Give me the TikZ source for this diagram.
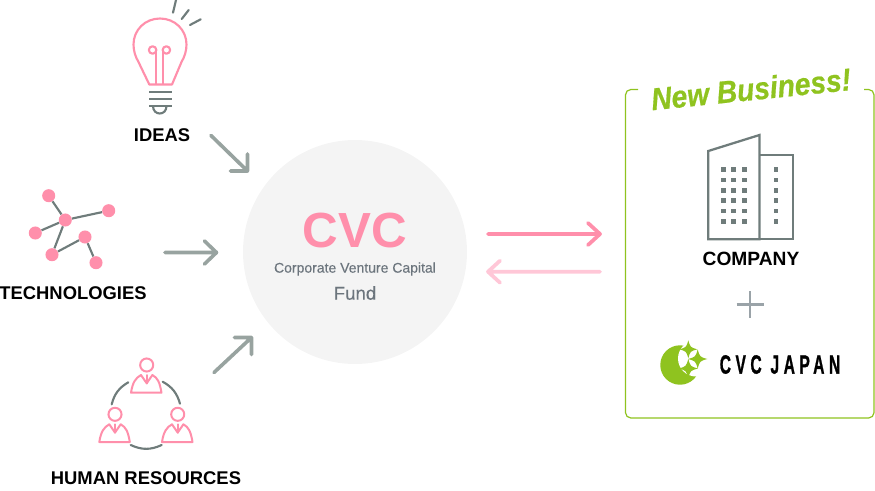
\documentclass[tikz,border=0pt]{standalone}
\usepackage{fontspec}
\setmainfont{Liberation Sans}
\newfontfamily\logofont[LetterSpace=29,FakeBold=1.2]{Liberation Sans Bold}
\newfontfamily\headfont[FakeBold=0.6]{Liberation Sans Bold Italic}
\newfontfamily\midfont[FakeBold=0.25]{Liberation Sans}
\definecolor{pk}{HTML}{FF8FAB}
\definecolor{lpk}{HTML}{FFC7D7}
\definecolor{gy}{HTML}{6F7C7B}
\definecolor{agy}{HTML}{98A3A0}
\definecolor{pgy}{HTML}{9AA3A8}
\definecolor{gn}{HTML}{8FC31F}
\definecolor{txg}{HTML}{6C757D}
\definecolor{cg}{HTML}{F4F4F4}
\tikzset{
 x=0.75pt,y=-0.75pt,
 pline/.style={draw=pk,line width=1.6pt,line join=round,line cap=round},
 hline/.style={draw=pk,line width=1.5pt,line join=round,line cap=round},
 gline/.style={draw=gy,line width=1.6pt,line cap=round},
 tdot/.style={circle,fill=pk,minimum size=9.8pt,inner sep=0pt},
 tedge/.style={draw=gy,line width=1.6pt},
 lab/.style={font=\bfseries\fontsize{13.8}{16}\selectfont,text=black,inner sep=0pt},
 bigarrow/.style={draw=agy,line width=2.7pt,line cap=round,line join=round},
 bldg/.style={draw=gy,line width=1.7pt,line join=miter},
 win/.style={fill=gy,minimum size=3.7pt,inner sep=0pt},
 logostar/.style={fill=gn},
}
\newcommand{\person}[2]{%
 \draw[hline] (#1,#2) ellipse (4.9pt and 4.9pt);
 \draw[hline] (#1-15.7,#2+27.7) .. controls (#1-14,#2+17) and (#1-11,#2+13) .. (#1-5.7,#2+10) -- (#1,#2+18.3) -- (#1+5.7,#2+10) .. controls (#1+11,#2+13) and (#1+13,#2+17) .. (#1+14.8,#2+27.7) -- cycle;
 \draw[hline] (#1,#2+10) -- (#1,#2+18.3);
}
\newcommand{\sparkle}[3]{%
 \fill[logostar] (#1,#2-#3) .. controls (#1+.22*#3,#2-.22*#3) .. (#1+#3,#2) .. controls (#1+.22*#3,#2+.22*#3) .. (#1,#2+#3) .. controls (#1-.22*#3,#2+.22*#3) .. (#1-#3,#2) .. controls (#1-.22*#3,#2-.22*#3) .. cycle;
}
\begin{document}
\begin{tikzpicture}
\useasboundingbox (0,0) rectangle (875,490);
% bulb
\draw[pline] (149.3,84.5) -- (138.5,62) .. controls (135.5,57) and (133.5,51) .. (133.5,44.5) .. controls (133.5,30) and (145,18.5) .. (160,18.5) .. controls (175,18.5) and (186.5,30) .. (186.5,44.5) .. controls (186.5,51) and (184.5,57) .. (181.5,62) -- (172,84.5) -- cycle;
\draw[pline] (155.7,84) -- (155.7,50) (163.3,84) -- (163.3,50);
\draw[pline] (152.6,50) ellipse (2.8pt and 2.8pt);
\draw[pline] (166.4,50) ellipse (2.8pt and 2.8pt);
\draw[gline,line cap=butt] (149,91.7) -- (171.7,91.7) (149,98.7) -- (171.7,98.7) (149,106) -- (171.7,106);
\draw[gline,line cap=butt] (153,106) .. controls (153,116) and (166.5,116) .. (166.5,106);
\draw[gline] (173,12.7) -- (176,0) (181.7,19) -- (188.7,10) (190,25) -- (200.7,19.3);
\node[lab] (ideas) at (162,135) {IDEAS};
% tech
\node[tdot] (t1) at (48.7,195.7) {};
\node[tdot] (t2) at (108.7,210.7) {};
\node[tdot] (t3) at (65.3,220) {};
\node[tdot] (t4) at (35.3,233) {};
\node[tdot] (t5) at (85,237) {};
\node[tdot] (t6) at (52,254.7) {};
\node[tdot] (t7) at (96,262.7) {};
\draw[tedge] (t1) -- (t3) (t2) -- (t3) (t4) -- (t3) (t3) -- (t6) (t6) -- (t5) (t5) -- (t7);
\node[lab] (tech) at (73,293) {TECHNOLOGIES};
% people
\person{146.7}{365}
\person{115}{414.3}
\person{177.7}{414.3}
\coordinate (h1) at (128.3,382.3); \coordinate (h2) at (111.7,404.3);
\coordinate (h3) at (162.7,381.7); \coordinate (h4) at (180,403.7);
\coordinate (h5) at (130.7,445); \coordinate (h6) at (161.7,445);
\draw[gline] (h1) to[bend right=22.5] (h2);
\draw[gline] (h3) to[bend left=22.5] (h4);
\draw[gline] (h5) to[bend right=25] (h6);
\node[lab] (hr) at (146,478) {HUMAN RESOURCES};
% centre
\node[circle,fill=cg,minimum size=168pt,inner sep=0pt] (cvc) at (355,252) {};
\node[font=\bfseries\fontsize{37}{40}\selectfont,text=pk,inner sep=0pt] (cvct) at (355,230.5) {CVC};
\node[font=\midfont\fontsize{10.5}{12}\selectfont,text=txg,inner sep=0pt] (cvcs) at (355,269) {Corporate Venture Capital};
\node[font=\midfont\fontsize{14}{16}\selectfont,text=txg,inner sep=0pt] (fund) at (355,293) {Fund};
% grey arrows
\coordinate (a1s) at (211,135.5); \coordinate (a1e) at (247.5,171);
\coordinate (a2s) at (165,252.5); \coordinate (a2e) at (216.5,252.5);
\coordinate (a3s) at (214,372.5); \coordinate (a3e) at (251.5,337.5);
\draw[bigarrow] (a1s) -- (a1e) (247.5,154) -- (a1e) -- (230.5,171);
\draw[bigarrow] (a2s) -- (a2e) (204.5,241) -- (a2e) -- (204.5,264);
\draw[bigarrow] (a3s) -- (a3e) (234.5,337.5) -- (a3e) -- (251.5,354.5);
% pink arrows
\coordinate (p1s) at (488,234); \coordinate (p1e) at (600,234);
\coordinate (p2s) at (600,271.7); \coordinate (p2e) at (488,271.7);
\draw[draw=pk,line width=2.8pt,line cap=round,line join=round] (p1s) -- (p1e) (588,223) -- (p1e) -- (588,245);
\draw[draw=lpk,line width=2.8pt,line cap=round,line join=round] (p2s) -- (p2e) (500,260.7) -- (p2e) -- (500,282.7);
% box
\coordinate (bl) at (638,89.5); \coordinate (br) at (864,89.5);
\draw[draw=gn,line width=0.9pt,rounded corners=4pt] (bl) -- (625.5,89.5) -- (625.5,418) -- (874,418) -- (874,89.5) -- (br);
\node[text=gn,rotate=5.8,inner sep=0pt] (nb) at (751,89) {\scalebox{0.9}[1]{\headfont\fontsize{23.5}{26}\selectfont New Business!}};
% building
\draw[bldg] (708.3,239.3) -- (708.3,151) -- (759.5,135) -- (759.5,239.3) -- cycle;
\draw[bldg] (759.5,155) -- (792.7,155) -- (792.7,239.3) -- (759.5,239.3);
\foreach \yy [count=\j] in {169.3,180,190.3,200.7,211,221.7}{
 \foreach \xx [count=\i] in {723.3,733.7,744.3,776}{
  \node[win] (w\i-\j) at (\xx,\yy) {};
 }
}
\node[lab,font=\bfseries\fontsize{14.4}{16}\selectfont] (comp) at (751,259) {COMPANY};
% plus
\coordinate (pl) at (736.5,304.5); \coordinate (pr) at (764,304.5);
\coordinate (pt) at (750,291); \coordinate (pb) at (750,318);
\draw[draw=pgy,line width=2pt] (pl) -- (pr) (pt) -- (pb);
% logo
\fill[gn] (680,365) circle[radius=14.8pt];
\fill[white] (696,358.5) circle[radius=13.5pt];
\sparkle{688.3}{349.3}{9}
\sparkle{697.7}{359}{9.6}
\sparkle{688.3}{368.5}{9.6}
\node[inner sep=0pt] (cvcj) at (780,364.5) {\scalebox{0.59}[1]{\logofont\fontsize{19.8}{22}\selectfont CVC JAPAN}};
\end{tikzpicture}
\end{document}
